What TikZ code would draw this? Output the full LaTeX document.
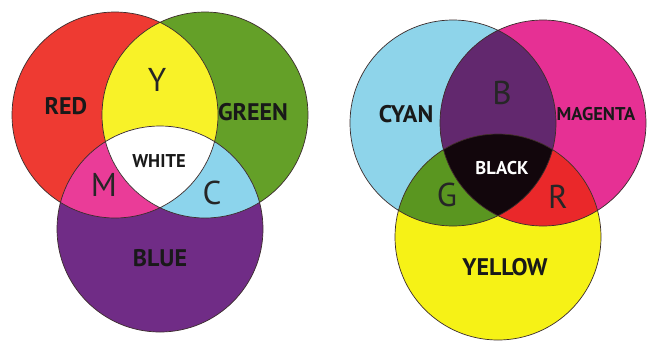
\documentclass[tikz,border=0pt]{standalone}
\usepackage{fontspec}
\setmainfont{PT Sans}
\usetikzlibrary{positioning}
\definecolor{lightred}{RGB}{238,58,50}
\definecolor{lightgreen}{RGB}{100,160,40}
\definecolor{lightblue}{RGB}{112,44,134}
\definecolor{lightyellow}{RGB}{248,242,40}
\definecolor{lightmagenta}{RGB}{234,60,152}
\definecolor{lightcyan}{RGB}{140,212,236}
\definecolor{inkcyan}{RGB}{142,212,234}
\definecolor{inkmagenta}{RGB}{230,48,148}
\definecolor{inkyellow}{RGB}{246,242,22}
\definecolor{inkblue}{RGB}{98,40,110}
\definecolor{inkgreen}{RGB}{90,150,32}
\definecolor{inkred}{RGB}{234,40,42}
\definecolor{inkblack}{RGB}{18,6,12}
\definecolor{rimgray}{RGB}{60,45,45}
\newcommand{\colorvenn}[8]{%
    \begin{scope}[shift={#1}]
        \fill[#2] (-45,0) circle[radius=103pt];
        \fill[#3] (45,0) circle[radius=103pt];
        \fill[#4] (0,114) circle[radius=103pt];
        \begin{scope}
            \clip (-45,0) circle[radius=103pt];
            \fill[#5] (45,0) circle[radius=103pt];
            \fill[#6] (0,114) circle[radius=103pt];
        \end{scope}
        \begin{scope}
            \clip (45,0) circle[radius=103pt];
            \fill[#7] (0,114) circle[radius=103pt];
        \end{scope}
        \begin{scope}
            \clip (-45,0) circle[radius=103pt];
            \clip (45,0) circle[radius=103pt];
            \fill[#8] (0,114) circle[radius=103pt];
        \end{scope}
        \draw[rim] (-45,0) circle[radius=103pt] (45,0) circle[radius=103pt]
                   (0,114) circle[radius=103pt];
    \end{scope}%
}

\begin{document}
\begin{tikzpicture}[
        x=1pt,
        y=-1pt,
        rim/.style={draw=rimgray, line width=0.7pt},
        word/.style={font=\bfseries\fontsize{24}{24}\selectfont, text=black!90, inner sep=1pt},
        smallword/.style={font=\bfseries\fontsize{18.5}{18.5}\selectfont, text=black!90, inner sep=1pt},
        letter/.style={font=\fontsize{33}{33}\selectfont, text=black!85, inner sep=1pt}
    ]
        \fill[white] (0,0) rectangle (653,341);
        \useasboundingbox (0,0) rectangle (653,341);

        % additive mixing
        \colorvenn{(160,115)}{lightred}{lightgreen}{lightblue}{lightyellow}{lightmagenta}{lightcyan}{white}
        % subtractive mixing
        \colorvenn{(498,123)}{inkcyan}{inkmagenta}{inkyellow}{inkblue}{inkgreen}{inkred}{inkblack}

        \node[word] (red) at (66,106) {RED};
        \node[word] (green) at (253,112) {GREEN};
        \node[word] (blue) at (160,258) {BLUE};
        \node[smallword] (white) at (159,161) {WHITE};
        \node[letter] (y) at (157,80) {Y};
        \node[letter] (m) at (104,185) {M};
        \node[letter] (c) at (212,193) {C};

        \node[word] (cyan) at (406,114) {CYAN};
        \node[smallword] (magenta) at (596,114) {MAGENTA};
        \node[word] (yellow) at (505,267) {YELLOW};
        \node[smallword, text=white] (black) at (502,168) {BLACK};
        \node[letter] (b) at (502,93) {B};
        \node[letter] (g) at (447,195) {G};
        \node[letter] (r) at (558,197) {R};
    \end{tikzpicture}
\end{document}
